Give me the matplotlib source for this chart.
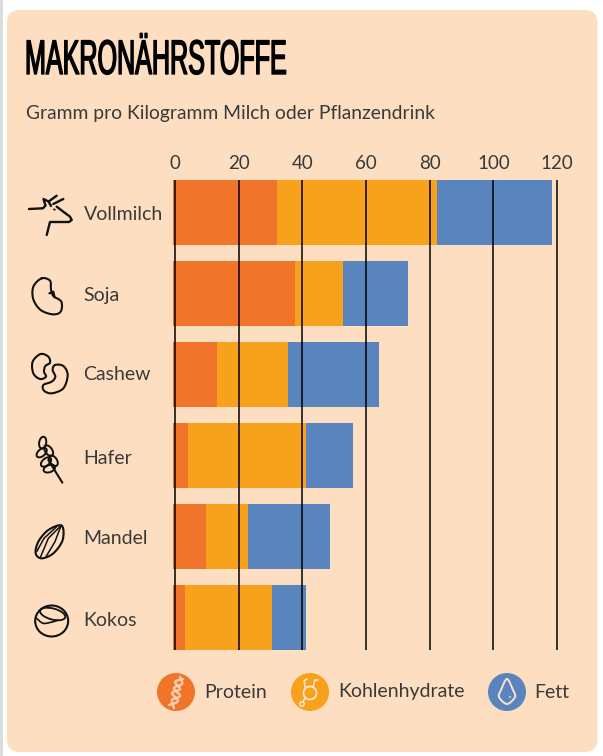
import matplotlib
matplotlib.use('Agg')
import matplotlib.pyplot as plt
import matplotlib.patheffects as pe
from matplotlib.patches import FancyBboxPatch, Circle, Ellipse, PathPatch
from matplotlib.path import Path
from matplotlib.transforms import Affine2D
import numpy as np

plt.rcParams['font.family'] = ['Lato', 'DejaVu Sans']

# Werte in Gramm pro Kilogramm
categories = ['Vollmilch', 'Soja', 'Cashew', 'Hafer', 'Mandel', 'Kokos']
protein = [32.0, 37.7, 13.2, 4.0, 9.6, 3.0]
carbs = [50.3, 15.1, 22.3, 37.0, 13.2, 27.6]
fat = [36.2, 20.5, 28.5, 15.0, 26.0, 10.5]
xticks = [0, 20, 40, 60, 80, 100, 120]

W, H = 603, 756
BG = '#fddec0'
ORANGE = '#f0742a'
YELLOW = '#f7a11c'
BLUE = '#5a84bd'
INK = '#111111'
TEXT = '#3a3a3a'

fig = plt.figure(figsize=(W/100, H/100), dpi=100, facecolor='white')

# ebene in pixeln fuer karte, icons, texte
bg = fig.add_axes([0, 0, 1, 1], zorder=0)
bg.set_xlim(0, W)
bg.set_ylim(H, 0)
bg.axis('off')
bg.add_patch(plt.Rectangle((0, 0), 3, H, color='#dcdcdc', lw=0))
bg.add_patch(FancyBboxPatch((7, 10), 590.5, 742, boxstyle='round,pad=0,rounding_size=13', lw=0, fc=BG,
                            mutation_scale=1))

top = fig.add_axes([0, 0, 1, 1], zorder=2)
top.set_xlim(0, W)
top.set_ylim(H, 0)
top.axis('off')
top.patch.set_alpha(0)

# balken
left_px, right_px, top_px, bottom_px = 170, 562, 180, 650
ax = fig.add_axes([left_px/W, 1-bottom_px/H, (right_px-left_px)/W, (bottom_px-top_px)/H], zorder=1)
ax.patch.set_alpha(0)
scale = 3.184
ax.set_xlim((left_px-175)/scale, (right_px-175)/scale)
y = np.arange(len(categories))
ax.set_ylim(5.401, -0.401)
p, c, f = np.array(protein), np.array(carbs), np.array(fat)
ax.barh(y, p+0.5, left=-0.5, height=0.802, color=ORANGE, zorder=1)
ax.barh(y, c, left=p, height=0.802, color=YELLOW, zorder=1)
ax.barh(y, f, left=p+c, height=0.802, color=BLUE, zorder=1)
for t in xticks:
    ax.axvline(t, color='black', lw=1.1, zorder=2)
for s in ax.spines.values():
    s.set_visible(False)
ax.xaxis.tick_top()
ax.set_xticks(xticks)
ax.set_yticks([])
ax.tick_params(axis='x', length=0, pad=6, labelsize=13.5, labelcolor=TEXT)


# titel: keine so schmale schrift da, also waagerecht stauchen
class Squeeze(pe.AbstractPathEffect):
    def __init__(self, x0, sx):
        super().__init__()
        self.x0, self.sx = x0, sx

    def draw_path(self, renderer, gc, tpath, affine, rgbFace=None):
        tr = affine + Affine2D().translate(-self.x0, 0).scale(self.sx, 1).translate(self.x0, 0)
        gc0 = renderer.new_gc()
        gc0.copy_properties(gc)
        gc0.set_linewidth(1.0)
        gc0.set_foreground('black')
        renderer.draw_path(gc0, tpath, tr, rgbFace)
        gc0.restore()


title = top.text(25, 74, 'MAKRONÄHRSTOFFE', family=['Liberation Sans', 'DejaVu Sans'], fontsize=35,
                 color='black', va='baseline')
tw = title.get_window_extent(fig.canvas.get_renderer()).width
title.set_path_effects([Squeeze(25, 262/tw)])

top.text(26, 118.5, 'Gramm pro Kilogramm Milch oder Pflanzendrink', fontsize=13.9, color=TEXT, va='baseline')

label_y = [214, 296, 375, 459, 538, 620]
for name, ly in zip(categories, label_y):
    top.text(83.5, ly, name, fontsize=14, color=TEXT, va='center')


def smooth(pts, closed=True):
    # catmull-rom nach bezier
    pts = [np.array(q, float) for q in pts]
    n = len(pts)
    verts, codes = [pts[0]], [Path.MOVETO]
    for i in range(n if closed else n-1):
        if closed:
            p0, p1, p2, p3 = pts[i-1], pts[i], pts[(i+1) % n], pts[(i+2) % n]
        else:
            p0, p1, p2, p3 = pts[max(i-1, 0)], pts[i], pts[i+1], pts[min(i+2, n-1)]
        verts += [p1+(p2-p0)/6, p2-(p3-p1)/6, p2]
        codes += [Path.CURVE4]*3
    return Path(verts, codes)


def stroke(pts, closed=True, lw=1.5, color=INK, alpha=1):
    top.add_patch(PathPatch(smooth(pts, closed), fc='none', ec=color, lw=lw, alpha=alpha,
                            capstyle='round', joinstyle='round'))


def line(pts, lw=1.5, color=INK):
    xs, ys = zip(*pts)
    top.plot(xs, ys, color=color, lw=lw, solid_capstyle='round', solid_joinstyle='round')


def z(x, y):
    # koordinaten aus dem ausschnitt links unten
    return (20+x/3, 260+y/3)


# kuh
line([(29, 209), (43, 208.3), (45.5, 205.5), (43.5, 199), (48.5, 201.5), (51, 206)], lw=1.7)
line([(49.3, 201), (56.7, 195.7)], lw=1.7)
line([(53.3, 204), (63.3, 199)], lw=1.7)
line([(56.7, 206.7), (70, 216.7), (71.7, 220), (69, 222), (50, 222), (46.7, 235)], lw=1.7)
line([(54, 209.3), (54.8, 209.8)], lw=1.3)

# soja
stroke([z(*q) for q in [(65, 55), (90, 62), (93, 88), (100, 108), (124, 125), (122, 155), (98, 163),
                        (62, 150), (40, 118), (40, 80)]])
line([z(*q) for q in [(88, 100), (100, 95), (104, 112)]])

# cashew
stroke([z(*q) for q in [(62, 282), (85, 290), (90, 308), (76, 318), (72, 335), (78, 350), (60, 357),
                        (40, 340), (38, 305)]])
stroke([z(*q) for q in [(105, 315), (130, 318), (143, 345), (130, 385), (95, 400), (72, 392), (70, 375),
                        (95, 365), (106, 350), (98, 330)]])

# hafer
line([z(127, 668), z(85, 600)])
for ex, ey, a in [(68, 548, 10), (65, 578, 50), (86, 572, -35), (78, 606, 50), (100, 602, -35),
                  (88, 626, 70)]:
    px, py = z(ex, ey)
    top.add_patch(Ellipse((px, py), 7, 12, angle=a, fc='none', ec=INK, lw=1.4))

# mandel
mandel = [(125, 797), (128, 840), (100, 880), (65, 895), (47, 880), (55, 845), (85, 810)]
stroke([z(*q) for q in mandel])
line([z(*q) for q in [(120, 800), (85, 835), (62, 890)]], lw=1.1)
line([z(*q) for q in [(122, 800), (105, 845), (78, 890)]], lw=1.1)
line([z(*q) for q in [(110, 800), (72, 835), (50, 875)]], lw=1.1)

# kokos
cx, cy = z(95, 1083)
top.add_patch(Ellipse((cx, cy), 33, 31, fc='none', ec=INK, lw=1.5))
kx, ky = z(98, 1062)
top.add_patch(Ellipse((kx, ky), 26, 11, angle=15, fc='none', ec=INK, lw=1.3))
stroke([z(*q) for q in [(50, 1075), (70, 1090), (100, 1085), (115, 1080)]], closed=False, lw=1.2)

# legende
legend_items = [('Protein', 176, 204, ORANGE), ('Kohlenhydrate', 310, 338, YELLOW), ('Fett', 507, 534, BLUE)]
for name, cx, tx, col in legend_items:
    top.add_patch(Circle((cx, 692), 19, fc=col, ec='none'))
    top.text(tx, 692, name, fontsize=14, color=TEXT, va='center')

ICON = '#fde3cd'
# dna
stroke([(169, 705), (178, 701), (172, 693), (180, 689), (175, 682), (183, 679)], closed=False, lw=1.8, color=ICON, alpha=0.75)
stroke([(174, 708), (172, 700), (180, 696), (174, 688), (182, 684), (180, 677)], closed=False, lw=1.8, color=ICON, alpha=0.75)
# molekuel
top.add_patch(Circle((310, 693), 6.5, fc='none', ec=ICON, lw=1.3))
line([(305.5, 688), (304, 681), (307, 679)], lw=1.2, color=ICON)
line([(313, 687), (315, 680), (318, 680)], lw=1.2, color=ICON)
line([(305, 698), (303, 702)], lw=1.2, color=ICON)
top.add_patch(Circle((302, 704), 2.2, fc='none', ec=ICON, lw=1.1))
# tropfen
stroke([(507, 679), (513, 690), (515, 697), (507, 704), (499, 697), (501, 690)], lw=1.4, color=ICON)
top.add_patch(Circle((510, 697), 0.9, fc=ICON, ec='none'))

fig.savefig('out.png', dpi=100, facecolor='white')
